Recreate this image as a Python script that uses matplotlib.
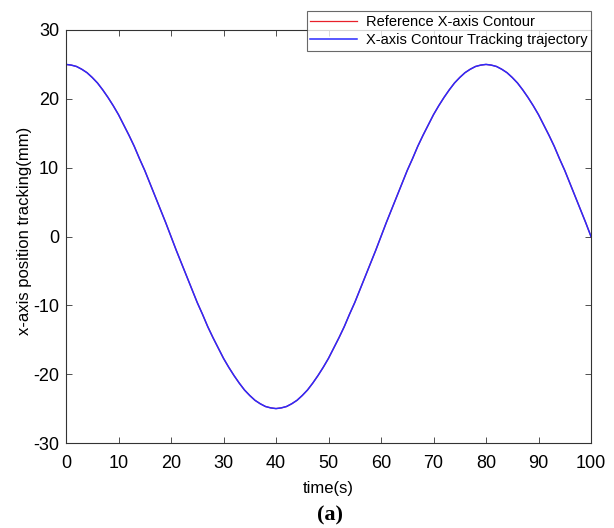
import matplotlib.pyplot as plt

plt.rcParams['font.family'] = ['Liberation Sans', 'DejaVu Sans']
plt.rcParams['axes.unicode_minus'] = False

# sample times (s), one per second
time_s = list(range(101))

# reference contour along x (mm)
ref_x = [25.0, 24.9, 24.7, 24.3, 23.8, 23.1, 22.3, 21.3, 20.2, 19.0, 17.7,
         16.2, 14.7, 13.1, 11.3, 9.6, 7.7, 5.8, 3.9, 2.0, 0.0,
         -2.0, -3.9, -5.8, -7.7, -9.6, -11.3, -13.1, -14.7, -16.2, -17.7,
         -19.0, -20.2, -21.3, -22.3, -23.1, -23.8, -24.3, -24.7, -24.9, -25.0,
         -24.9, -24.7, -24.3, -23.8, -23.1, -22.3, -21.3, -20.2, -19.0, -17.7,
         -16.2, -14.7, -13.1, -11.3, -9.6, -7.7, -5.8, -3.9, -2.0, 0.0,
         2.0, 3.9, 5.8, 7.7, 9.6, 11.3, 13.1, 14.7, 16.2, 17.7,
         19.0, 20.2, 21.3, 22.3, 23.1, 23.8, 24.3, 24.7, 24.9, 25.0,
         24.9, 24.7, 24.3, 23.8, 23.1, 22.3, 21.3, 20.2, 19.0, 17.7,
         16.2, 14.7, 13.1, 11.3, 9.6, 7.7, 5.8, 3.9, 2.0, 0.0]

# tracked trajectory lies on top of the reference
track_x = [25.0, 24.9, 24.7, 24.3, 23.8, 23.1, 22.3, 21.3, 20.2, 19.0, 17.7,
           16.2, 14.7, 13.1, 11.3, 9.6, 7.7, 5.8, 3.9, 2.0, 0.0,
           -2.0, -3.9, -5.8, -7.7, -9.6, -11.3, -13.1, -14.7, -16.2, -17.7,
           -19.0, -20.2, -21.3, -22.3, -23.1, -23.8, -24.3, -24.7, -24.9, -25.0,
           -24.9, -24.7, -24.3, -23.8, -23.1, -22.3, -21.3, -20.2, -19.0, -17.7,
           -16.2, -14.7, -13.1, -11.3, -9.6, -7.7, -5.8, -3.9, -2.0, 0.0,
           2.0, 3.9, 5.8, 7.7, 9.6, 11.3, 13.1, 14.7, 16.2, 17.7,
           19.0, 20.2, 21.3, 22.3, 23.1, 23.8, 24.3, 24.7, 24.9, 25.0,
           24.9, 24.7, 24.3, 23.8, 23.1, 22.3, 21.3, 20.2, 19.0, 17.7,
           16.2, 14.7, 13.1, 11.3, 9.6, 7.7, 5.8, 3.9, 2.0, 0.0]

x_ticks = [0, 10, 20, 30, 40, 50, 60, 70, 80, 90, 100]
y_ticks = [-30, -20, -10, 0, 10, 20, 30]

fig = plt.figure(figsize=(6.14, 5.28), dpi=100)
ax = fig.add_axes([66 / 614, 85 / 528, 525 / 614, 413 / 528])

ax.plot(time_s, ref_x, color='#e8202a', lw=0.9, label='Reference X-axis Contour')
ax.plot(time_s, track_x, color='#2a2aff', lw=1.1,
        label='X-axis Contour Tracking trajectory')

ax.set_xlim(0, 100)
ax.set_ylim(-30, 30)
ax.set_xticks(x_ticks)
ax.set_yticks(y_ticks)
ax.tick_params(direction='in', top=True, right=True, length=4, width=0.6,
               color='#333333', labelsize=13)
ax.tick_params(axis='x', pad=9)
ax.tick_params(axis='y', pad=5)
for s in ax.spines.values():
    s.set_color('#333333')
    s.set_linewidth(0.8)

ax.set_xlabel('time(s)', fontsize=12, labelpad=6)
ax.set_ylabel('x-axis position tracking(mm)', fontsize=12, labelpad=1)
ax.yaxis.label.set_y(0.513)

leg = fig.legend(loc='upper right', bbox_to_anchor=(591 / 614, 1 - 11 / 528),
                 bbox_transform=fig.transFigure, borderaxespad=0, fontsize=10.5,
                 frameon=True, fancybox=False, handlelength=3.2,
                 borderpad=0.25, labelspacing=0.3, handletextpad=0.6)
leg.get_frame().set_edgecolor('#444444')
leg.get_frame().set_linewidth(0.8)

fig.text(330 / 614, 1 - 515 / 528, '(a)', ha='center', va='center',
         fontsize=16, fontweight='bold', family='Liberation Serif')

fig.savefig('out.png', dpi=100)
